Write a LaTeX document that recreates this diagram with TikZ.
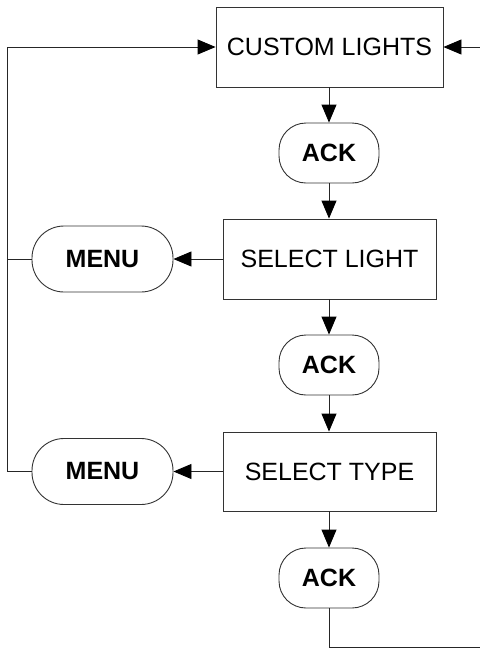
\documentclass[tikz,border=0pt]{standalone}
\usepackage{fontspec}
\setmainfont{Liberation Sans}
\usetikzlibrary{arrows.meta}
\begin{document}
\begin{tikzpicture}[x=1pt,y=-1pt,
  box/.style={draw=black!80,line width=0.9pt,rectangle,inner sep=0pt,font=\fontsize{25}{29}\selectfont},
  pill/.style={draw=black!80,line width=0.9pt,rectangle,rounded corners=27pt,inner sep=0pt,font=\fontsize{25}{29}\selectfont\bfseries},
  conn/.style={draw=black!85,line width=0.9pt},
  arr/.style={conn,-{Triangle[length=18pt,width=15pt,fill=black,color=black]}}]
\useasboundingbox (0,0) rectangle (480,649);
\node[box,minimum width=227pt,minimum height=80pt] (cl) at (329.5,47) {CUSTOM LIGHTS};
\node[pill,minimum width=100pt,minimum height=60pt] (ack1) at (329,153) {ACK};
\node[box,minimum width=213pt,minimum height=80pt] (sl) at (329.5,259) {SELECT LIGHT};
\node[pill,minimum width=141pt,minimum height=66pt,rounded corners=32pt] (menu1) at (102.5,259) {MENU};
\node[pill,minimum width=100pt,minimum height=60pt] (ack2) at (329,365) {ACK};
\node[box,minimum width=213pt,minimum height=79pt] (st) at (329.5,471.5) {SELECT TYPE};
\node[pill,minimum width=141pt,minimum height=66pt,rounded corners=32pt] (menu2) at (102.5,471.5) {MENU};
\node[pill,minimum width=100pt,minimum height=60pt] (ack3) at (329,578) {ACK};
\coordinate (ltop) at (7,47);
\coordinate (lbot) at (7,471.5);
\coordinate (bl) at (329,647);
\coordinate (br) at (484,647);
\coordinate (tr) at (484,47);
\draw[arr] (cl.south -| ack1.north) -- (ack1.north);
\draw[arr] (ack1.south) -- (ack1.south |- sl.north);
\draw[arr] (sl.south -| ack2.north) -- (ack2.north);
\draw[arr] (ack2.south) -- (ack2.south |- st.north);
\draw[arr] (st.south -| ack3.north) -- (ack3.north);
\draw[arr] (sl.west) -- (menu1.east);
\draw[arr] (st.west) -- (menu2.east);
\draw[conn] (menu1.west) -- (menu1.west -| ltop);
\draw[conn] (menu2.west) -- (lbot) -- (ltop);
\draw[arr] (ltop) -- (cl.west);
\draw[conn] (ack3.south) -- (bl) -- (br) -- (tr);
\draw[arr] (tr) -- (cl.east);
\end{tikzpicture}
\end{document}
